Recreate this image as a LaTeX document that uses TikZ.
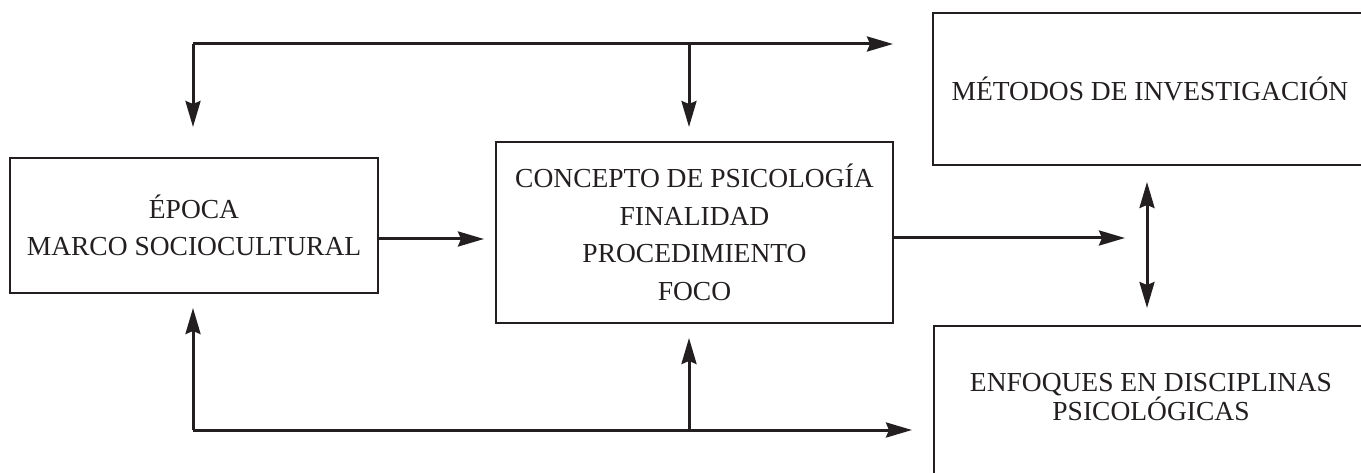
\documentclass[tikz,border=0pt]{standalone}
\usepackage{fontspec}
\setmainfont{Liberation Serif}
\usetikzlibrary{arrows.meta,calc}
\definecolor{ink}{HTML}{231F20}
\tikzset{
  caja/.style={draw=ink,line width=2pt,rectangle,align=center,inner sep=0pt},
  punta/.tip={Stealth[length=26pt,width=15pt,inset=3pt]},
  flecha/.style={draw=ink,line width=3pt,-punta},
  dobleflecha/.style={draw=ink,line width=3pt,punta-punta}
}
\begin{document}
\begin{tikzpicture}[x=1pt,y=-1pt,font=\fontsize{27.5}{37.5}\selectfont,text=ink]
\clip (0,0) rectangle (1361,473);

% cajas
\node[caja,minimum width=368pt,minimum height=135pt] (epoca) at (194,225.5) {ÉPOCA\\MARCO SOCIOCULTURAL};
\node[caja,minimum width=397pt,minimum height=181pt] (concepto) at (694.5,232.5) {CONCEPTO DE PSICOLOGÍA\\FINALIDAD\\PROCEDIMIENTO\\FOCO};
\node[caja,minimum width=434pt,minimum height=152pt] (metodos) at (1150,89) {MÉTODOS DE INVESTIGACIÓN};
\node[caja,anchor=north west,minimum width=434pt,minimum height=200pt] (enfoquesbox) at (933,325) {};
\node[font=\fontsize{27.5}{24}\selectfont,align=center] (enfoques) at (1151,397) {ENFOQUES EN DISCIPLINAS\\PSICOLÓGICAS};

% lazo superior
\coordinate (sup) at (193,44);
\coordinate (ramasup) at (689,44);
\coordinate (supfin) at (893,44);
\draw[flecha] (sup) -- (supfin);
\draw[flecha] (sup) -- ($(epoca.north)+(-1,-30)$);
\draw[flecha] (ramasup) -- ($(concepto.north)+(-5.5,-14)$);

% lazo inferior
\coordinate (inf) at (193,430);
\coordinate (ramainf) at (689,430);
\coordinate (inffin) at (912,430);
\draw[flecha] (inf) -- (inffin);
\draw[flecha] (inf) -- ($(epoca.south)+(-1,14)$);
\draw[flecha] (ramainf) -- ($(concepto.south)+(-5.5,14)$);

% flechas centrales
\coordinate (medfin) at (1125,238);
\coordinate (mx) at (1147,0);
\draw[flecha] ($(epoca.east)+(0,13.5)$) -- ($(concepto.west)+(-11,6.5)$);
\draw[flecha] ($(concepto.east)+(0,5.5)$) -- (medfin);
\draw[dobleflecha] ($(metodos.south -| mx)+(0,16)$) -- ($(enfoquesbox.north -| mx)+(0,-17)$);

\end{tikzpicture}
\end{document}
